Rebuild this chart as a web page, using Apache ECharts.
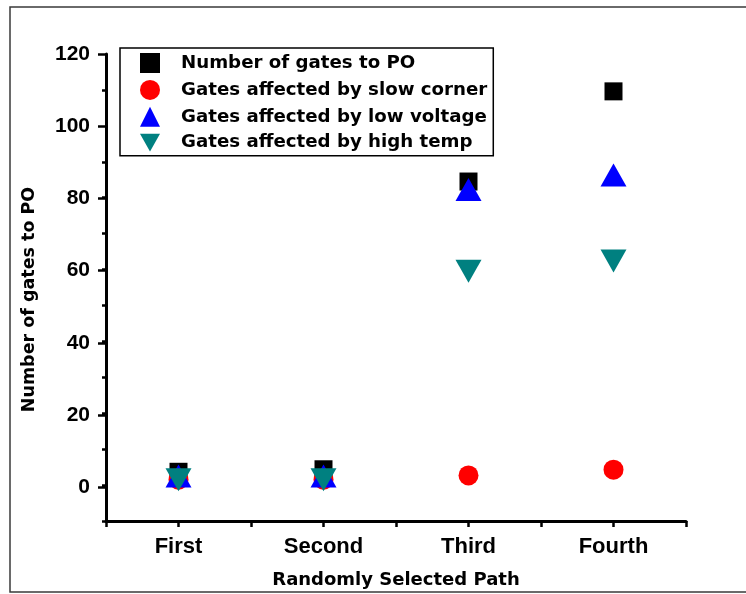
<!DOCTYPE html>
<html>
<head>
<meta charset="utf-8">
<script src="https://cdn.jsdelivr.net/npm/echarts@6/dist/echarts.min.js"></script>
<style>
  html, body { margin: 0; padding: 0; background: #fff; }
  #chart { width: 746px; height: 594px; }
</style>
</head>
<body>
<div id="chart"></div>
<script>
// Paths along the x axis and where each one sits on the value scale
const categories = ['First', 'Second', 'Third', 'Fourth'];
const pathPos = [1, 2, 3, 4];

// Gate counts per path
const gatesToPO   = [3.7, 4.4, 84.5, 109.6];
const slowCorner  = [1.5, 1.5, 2.7, 4.3];
const lowVoltage  = [2.5, 2.5, 82.3, 86.3];
const highTemp    = [1.5, 1.5, 59.5, 62.4];

const seriesNames = [
  'Number of gates to PO',
  'Gates affected by slow corner',
  'Gates affected by low voltage',
  'Gates affected by high temp'
];

const yTicks = [0, 20, 40, 60, 80, 100, 120];

const pairs = vals => vals.map((v, i) => [pathPos[i], v]);

const tickFont = { fontFamily: 'Liberation Sans', fontWeight: 'bold', color: '#000' };
const titleFont = { fontFamily: 'DejaVu Sans', fontWeight: 'bold', color: '#000' };
const downTri = 'path://M0,0L26,0L13,23Z';

const chart = echarts.init(document.getElementById('chart'), null, { renderer: 'canvas' });

chart.setOption({
  backgroundColor: '#fff',
  animation: false,
  graphic: [{
    type: 'rect',
    shape: { x: 10, y: 7, width: 760, height: 585 },
    style: { fill: 'none', stroke: '#3a3a3a', lineWidth: 1.5 },
    z: -10
  }],
  grid: [
    { left: 106, right: 60, top: 54, bottom: 72 },
    // same left edge, spans 0..120 only, carries the long ticks and labels
    { left: 106, right: 60, top: 54, bottom: 594 - 487.3 }
  ],
  legend: {
    orient: 'vertical',
    left: 120,
    top: 48,
    padding: [5, 6, 4, 20],
    itemWidth: 20,
    itemHeight: 20,
    itemGap: 6.9,
    borderColor: '#000',
    borderWidth: 1.5,
    backgroundColor: '#fff',
    textStyle: Object.assign({ fontSize: 18.2, padding: [0, 0, 0, 16] }, titleFont),
    data: seriesNames
  },
  xAxis: [
    {
      gridIndex: 0,
      type: 'value',
      min: 0.5,
      max: 4.5,
      interval: 0.5,
      splitLine: { show: false },
      axisLine: { onZero: false, lineStyle: { color: '#000', width: 3 } },
      axisTick: { inside: false, length: 6, lineStyle: { color: '#000', width: 2.5 } },
      axisLabel: Object.assign({
        fontSize: 22,
        margin: 15,
        formatter: v => Number.isInteger(v) ? (categories[pathPos.indexOf(v)] || '') : ''
      }, tickFont),
      name: 'Randomly Selected Path',
      nameLocation: 'middle',
      nameGap: 50,
      nameTextStyle: Object.assign({ fontSize: 18 }, titleFont)
    },
    {
      gridIndex: 1,
      type: 'value',
      min: 0.5,
      max: 4.5,
      show: false
    }
  ],
  yAxis: [
    {
      gridIndex: 0,
      type: 'value',
      min: -10,
      max: 120,
      interval: 10,
      splitLine: { show: false },
      axisLine: { onZero: false, lineStyle: { color: '#000', width: 3 } },
      axisTick: { inside: false, length: 4, lineStyle: { color: '#000', width: 2.5 } },
      axisLabel: { show: false },
      name: 'Number of gates to PO',
      nameLocation: 'middle',
      nameGap: 68,
      nameTextStyle: Object.assign({ fontSize: 17.5, padding: [0, 24, 0, 0] }, titleFont)
    },
    {
      gridIndex: 1,
      type: 'value',
      min: yTicks[0],
      max: yTicks[yTicks.length - 1],
      interval: 20,
      splitLine: { show: false },
      axisLine: { show: false },
      axisTick: { inside: false, length: 8, lineStyle: { color: '#000', width: 2.5 } },
      axisLabel: Object.assign({ fontSize: 21, margin: 16 }, tickFont)
    }
  ],
  series: [
    {
      name: seriesNames[0], type: 'scatter', xAxisIndex: 0, yAxisIndex: 0,
      symbol: 'rect', symbolSize: 18,
      itemStyle: { color: '#000000', opacity: 1 },
      data: pairs(gatesToPO)
    },
    {
      name: seriesNames[1], type: 'scatter', xAxisIndex: 0, yAxisIndex: 0,
      symbol: 'circle', symbolSize: 20,
      itemStyle: { color: '#ff0000', opacity: 1 },
      data: pairs(slowCorner)
    },
    {
      name: seriesNames[2], type: 'scatter', xAxisIndex: 0, yAxisIndex: 0,
      symbol: 'triangle', symbolSize: [26, 23],
      itemStyle: { color: '#0000ff', opacity: 1 },
      data: pairs(lowVoltage)
    },
    {
      name: seriesNames[3], type: 'scatter', xAxisIndex: 0, yAxisIndex: 0,
      symbol: downTri, symbolSize: [26, 23],
      itemStyle: { color: '#008080', opacity: 1 },
      data: pairs(highTemp)
    }
  ]
});
</script>
</body>
</html>
